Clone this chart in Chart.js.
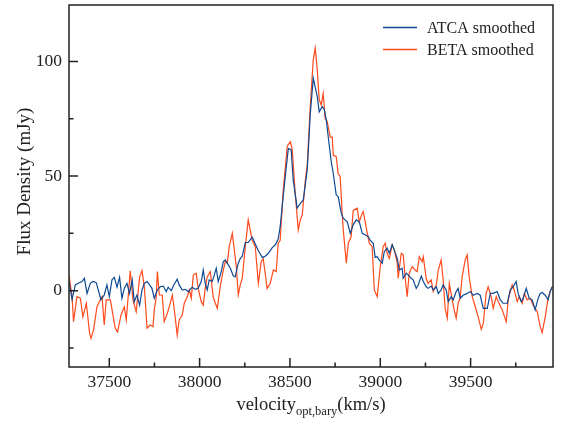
<!DOCTYPE html>
<html>
<head>
<meta charset="utf-8">
<script src="https://cdn.jsdelivr.net/npm/chart.js@4.4.0/dist/chart.umd.min.js"></script>
<style>
  html, body { margin: 0; padding: 0; background: #fff; }
  #wrap { width: 562px; height: 423px; }
</style>
</head>
<body>
<div id="wrap"><canvas id="specChart" width="562" height="423"></canvas></div>
<script>
// data (velocity in km/s, flux in mJy)
const atcaVel = [37277,37294,37312,37328,37349,37362,37377,37395,37410,37428,37439,37454,37472,37487,37500,37515,37528,37543,37557,37570,
  37583,37598,37612,37627,37638,37653,37668,37681,37694,37709,37723,37736,37749,37766,37782,37799,37815,37826,37843,37854,
  37876,37887,37904,37921,37937,37959,37976,37992,38009,38020,38031,38042,38053,38070,38081,38092,38103,38120,38131,38142,
  38153,38170,38186,38197,38208,38214,38225,38236,38253,38269,38291,38308,38325,38347,38363,38380,38402,38419,38435,38446,
  38457,38474,38491,38507,38518,38540,38557,38574,38596,38612,38629,38651,38662,38679,38690,38701,38712,38729,38740,38756,
  38767,38784,38795,38817,38834,38850,38867,38884,38900,38917,38933,38944,38961,38972,38983,38994,39011,39022,39038,39050,
  39066,39077,39094,39105,39121,39127,39144,39155,39171,39182,39199,39210,39227,39238,39254,39265,39282,39293,39310,39321,
  39337,39348,39365,39376,39393,39404,39420,39431,39442,39459,39481,39498,39514,39537,39553,39570,39592,39609,39625,39647,
  39664,39680,39703,39719,39736,39752,39763,39780,39791,39808,39824,39841,39857,39874,39885,39896,39913,39929,39940,39952];
const atcaFlux = [4,-3.8,2.5,3.2,4,5.4,-1.2,3.2,4,3.5,0.3,-4,-1.9,2.5,-2.6,4.7,5.8,1.5,5.8,-3.3,
  1,3.2,-1.2,4.7,-4.8,-1.9,-6.3,0.3,3.2,4,2.5,1,-3.3,0.3,1.7,2,-0.4,1.5,0,2,
  5,2.5,0.3,0.6,-0.4,1.5,0.6,1,4,9,3.2,0.3,4.7,4,6.8,9.8,4,8.3,12.7,13.4,
  12,9.8,6.5,6,10,12,14,15,21,21,23.3,20.3,17.4,14.5,15,16.3,18.8,20,22.5,28,
  36.7,49.8,62,61.4,48.3,36,38,39.6,53,76.5,92.7,84.7,78,80.3,79,74.5,67,56,51,41.8,
  41,33.8,31.6,30,25,28.7,30.9,30,25,24.3,23.6,22,20.7,14.5,14.8,13.4,12,17,18.5,16.3,
  20,17.8,14,9,9.8,5.4,7.6,6.8,5.4,4.7,1,2.5,6.4,4,1.7,1,2,0.3,1.7,-1.2,
  0.3,2.5,0.3,-4.8,-2.6,-4,-0.4,1,-3.3,-2,-1.2,-0.4,-2,-1.2,-2,-7.7,-7.7,-1.2,-1.2,-0.4,
  -4,-5.5,-5.5,0.3,1.7,4,-1.2,-4.8,-3.3,1,-3.3,-4,-8.4,-3.3,-1.2,-0.8,-2,-4,-0.5,1.7];

const betaVel = [37277,37294,37302,37321,37340,37354,37373,37391,37399,37413,37432,37450,37460,37472,37483,37506,37533,37546,37565,37583,
  37594,37616,37631,37649,37668,37681,37694,37709,37727,37742,37749,37760,37766,37777,37793,37804,37821,37832,37849,37860,
  37876,37887,37904,37915,37932,37943,37954,37965,37981,37992,38009,38020,38031,38042,38059,38075,38087,38098,38114,38131,
  38142,38153,38164,38181,38192,38203,38214,38225,38236,38253,38269,38291,38308,38325,38341,38352,38374,38391,38408,38424,
  38435,38446,38463,38485,38502,38513,38529,38546,38557,38568,38585,38596,38612,38629,38640,38651,38662,38673,38684,38695,
  38706,38723,38734,38740,38756,38767,38778,38789,38795,38812,38823,38839,38850,38872,38884,38900,38906,38928,38939,38955,
  38967,38983,39000,39016,39027,39038,39050,39066,39077,39094,39099,39116,39127,39138,39149,39160,39177,39193,39204,39216,
  39232,39238,39254,39265,39282,39293,39310,39321,39337,39348,39359,39371,39382,39398,39409,39420,39431,39442,39453,39470,
  39481,39492,39509,39520,39542,39559,39570,39586,39597,39614,39625,39642,39653,39675,39697,39708,39730,39741,39758,39769,
  39786,39797,39813,39830,39846,39869,39885,39896,39913,39929,39940,39952];
const betaFlux = [6.8,-2.6,-13.5,-2.6,-3.3,-11.4,-5.5,-18.6,-20.8,-17,-7,-4,-2.6,-15,-4,-4,-16.4,-18,-10.6,-7,
  -12.8,8.7,-4,-9.2,6,8.7,1.7,-16.4,-15,-15.7,-8.4,-2.6,8.3,-1.9,-1.9,-13.5,-10,-7,-1.9,-8.4,
  -19.4,-12.8,-10.6,-5.5,-2.6,0.3,-3.3,6.8,7.6,1,-4.8,-6.3,1,6,8.3,-2.6,-5.5,-7.7,1.7,9,
  12.7,12,19.2,25,17.8,10.5,-1.9,2.5,5.4,19.2,30.9,22,19.2,3.2,12.7,14,1,3.2,9,8.3,
  20.7,22,44,63,65,61.4,42.5,26.5,30.9,33,48,55,80,100.7,105.8,96.4,83.3,81,86,75,
  73.8,67,67,59,58.5,51,49.8,33.8,26.5,12,20.7,23.6,35,36,30,33.8,34.5,25,20.7,19.2,
  0.3,-2.6,10.5,19.2,20.7,16.3,14,20,17.8,12,5.4,16.3,15.6,5.4,-2.6,7.6,10.5,9,8.3,14.8,
  12.7,14.8,5.4,3.2,4.7,-0.4,2.5,9,13.4,4.7,-7.7,-12,3.2,-4,-8.4,-12,-5.5,-3.3,6,13.4,
  15.6,6,-2.6,-5.5,-11.4,-16.9,-14.3,-1.2,1.7,-2.6,-7.7,-2.6,-4.8,-8.4,-13.5,-4,2.5,0.3,-4.8,-2.6,
  -5.5,-1.2,-4,-3.3,-6.3,-9.2,-15.7,-18.3,-11.4,-3.3,-0.4,1.7];

// tick positions (major ones get labels)
const xTicks = [37500, 37750, 38000, 38250, 38500, 38750, 39000, 39250, 39500, 39750];
const xMajor = [37500, 38000, 38500, 39000, 39500];
const yTicks = [-25, 0, 25, 50, 75, 100];
const yMajor = [0, 50, 100];

const serif = '"Liberation Serif", "DejaVu Serif", serif';

function pairs(xs, ys) {
  return xs.map((v, i) => ({ x: v, y: ys[i] }));
}

// frame, inward ticks, legend and axis titles
const decorations = {
  id: 'decorations',
  afterDraw(chart) {
    const { ctx, chartArea: a, scales } = chart;
    const x = scales.x, y = scales.y;
    ctx.save();
    ctx.strokeStyle = '#222';
    ctx.lineWidth = 1.5;
    ctx.strokeRect(a.left, a.top, a.right - a.left, a.bottom - a.top);

    ctx.beginPath();
    x.ticks.forEach(t => {
      const len = xMajor.includes(t.value) ? 9 : 4.5;
      const px = x.getPixelForValue(t.value);
      ctx.moveTo(px, a.bottom);
      ctx.lineTo(px, a.bottom - len);
    });
    y.ticks.forEach(t => {
      const len = yMajor.includes(t.value) ? 9 : 4.5;
      const py = y.getPixelForValue(t.value);
      ctx.moveTo(a.left, py);
      ctx.lineTo(a.left + len, py);
    });
    ctx.stroke();

    // legend
    ctx.font = '16px ' + serif;
    ctx.textBaseline = 'alphabetic';
    ctx.textAlign = 'left';
    chart.data.datasets.forEach((ds, i) => {
      const ly = 27.5 + i * 22;
      ctx.strokeStyle = ds.borderColor;
      ctx.lineWidth = 1.3;
      ctx.beginPath();
      ctx.moveTo(383, ly);
      ctx.lineTo(417, ly);
      ctx.stroke();
      ctx.fillStyle = '#222';
      ctx.fillText(ds.label, 427, ly + 5.5);
    });

    // x title with subscript
    ctx.fillStyle = '#222';
    const big = '18.5px ' + serif, small = '12.5px ' + serif;
    const p1 = 'velocity', p2 = 'opt,bary', p3 = '(km/s)';
    ctx.font = big; const w1 = ctx.measureText(p1).width, w3 = ctx.measureText(p3).width;
    ctx.font = small; const w2 = ctx.measureText(p2).width;
    let sx = (a.left + a.right) / 2 - (w1 + w2 + w3) / 2;
    const base = 410;
    ctx.font = big; ctx.fillText(p1, sx, base); sx += w1;
    ctx.font = small; ctx.fillText(p2, sx, base + 5); sx += w2;
    ctx.font = big; ctx.fillText(p3, sx, base);

    // y title
    ctx.translate(30, 181.5);
    ctx.rotate(-Math.PI / 2);
    ctx.textAlign = 'center';
    ctx.font = '19px ' + serif;
    ctx.fillText('Flux Density (mJy)', 0, 0);
    ctx.restore();
  }
};

const data = {
  datasets: [{
    label: 'ATCA smoothed',
    data: pairs(atcaVel, atcaFlux),
    borderColor: '#0e4a93',
    borderWidth: 1.2,
    pointRadius: 0,
    tension: 0
  }, {
    label: 'BETA smoothed',
    data: pairs(betaVel, betaFlux),
    borderColor: '#ff4a1c',
    borderWidth: 1.2,
    pointRadius: 0,
    tension: 0
  }]
};

const config = {
  type: 'line',
  data,
  options: {
    responsive: false,
    animation: false,
    events: [],
    layout: { padding: { left: 0, right: 9, top: 5, bottom: 0 } },
    plugins: { legend: { display: false }, tooltip: { enabled: false } },
    scales: {
      x: {
        type: 'linear',
        min: 37277,
        max: 39956,
        grid: { display: false, drawTicks: false },
        border: { display: false },
        afterBuildTicks: s => { s.ticks = xTicks.map(v => ({ value: v })); },
        afterFit: s => { s.height = 56; s.paddingLeft = 0; s.paddingRight = 0; },
        ticks: {
          autoSkip: false,
          maxRotation: 0,
          padding: 5,
          color: '#222',
          font: { family: serif, size: 17.5 },
          callback: v => xMajor.includes(v) ? String(v) : ''
        }
      },
      y: {
        min: -33.3,
        max: 124.6,
        grid: { display: false, drawTicks: false },
        border: { display: false },
        afterBuildTicks: s => { s.ticks = yTicks.map(v => ({ value: v })); },
        afterFit: s => { s.width = 69; s.paddingTop = 0; s.paddingBottom = 0; },
        ticks: {
          autoSkip: false,
          padding: 7,
          color: '#222',
          font: { family: serif, size: 17.5 },
          callback: v => yMajor.includes(v) ? String(v) : ''
        }
      }
    }
  },
  plugins: [decorations]
};

const specChart = new Chart(document.getElementById('specChart'), config);
</script>
</body>
</html>
